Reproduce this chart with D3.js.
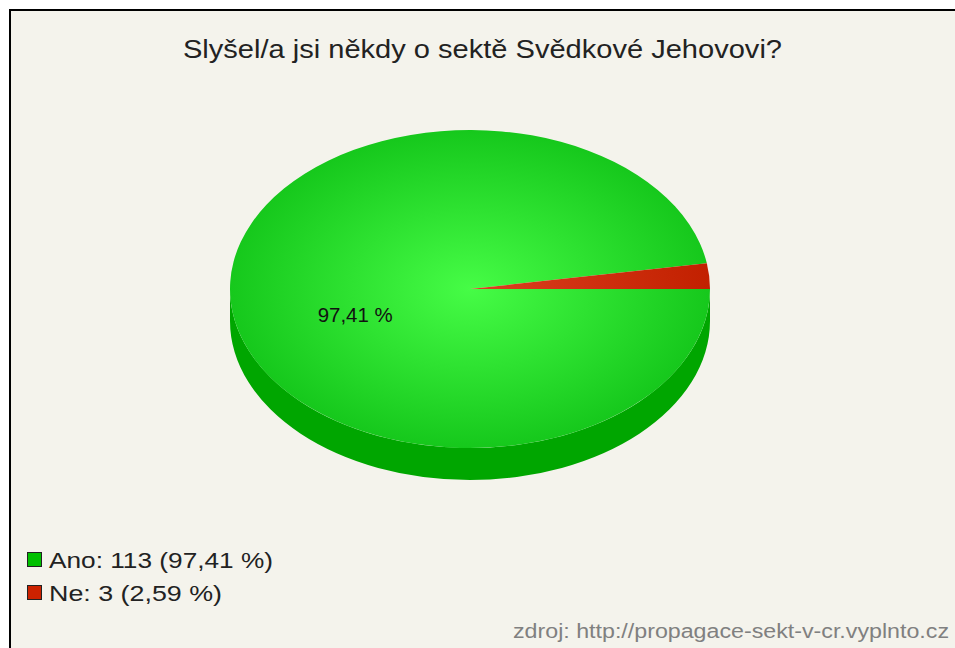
<!DOCTYPE html>
<html><head><meta charset="utf-8">
<script src="https://cdn.jsdelivr.net/npm/d3@7"></script>
<style>html,body{margin:0;padding:0;background:#fff;}svg{display:block;}</style>
</head><body>
<script>
const title = "Slyšel/a jsi někdy o sektě Svědkové Jehovovi?";
const categories = ["Ano", "Ne"];
const counts = [113, 3];
const percentLabels = ["97,41 %", "2,59 %"];
const legendLabels = ["Ano: 113 (97,41 %)", "Ne: 3 (2,59 %)"];
const topLight = ["#46fc46", "#dc4020"];
const topDark = ["#16c81c", "#c22000"];
const sideColors = ["#00a600", "#a01800"];
const legendColors = ["#00c000", "#cc2200"];
const source = "zdroj: http://propagace-sekt-v-cr.vyplnto.cz";

const W = 955, H = 648;
const cx = 470, cy = 289, rx = 240, ry = 159, depth = 32;
const font = "'Liberation Sans', Arial, sans-serif";

// measured widths of texts in the reference (wide glyphs)
const titleWidth = 599, labelWidth = 75, legendWidths = [224, 173], sourceWidth = 436;

const svg = d3.select("body").append("svg").attr("width", W).attr("height", H);
svg.append("rect").attr("x", 10).attr("y", 10).attr("width", 980).attr("height", 700)
  .attr("fill", "#f4f3ec").attr("stroke", "#000").attr("stroke-width", 2);

svg.append("text").attr("x", 183).attr("y", 58)
  .attr("font-family", font).attr("font-size", 26).attr("fill", "#222")
  .attr("textLength", titleWidth).attr("lengthAdjust", "spacingAndGlyphs").text(title);

const defs = svg.append("defs");
categories.forEach((c, i) => {
  const g = defs.append("radialGradient").attr("id", "g" + i)
    .attr("gradientUnits", "userSpaceOnUse").attr("cx", 0).attr("cy", 0).attr("r", rx);
  g.append("stop").attr("offset", "0%").attr("stop-color", topLight[i]);
  g.append("stop").attr("offset", "100%").attr("stop-color", topDark[i]);
});

const pie = d3.pie().sort(null).startAngle(Math.PI / 2).endAngle(Math.PI / 2 + 2 * Math.PI);
const arcs = pie(counts);
const arc = d3.arc().innerRadius(0).outerRadius(rx);

function pt(a, dy) { return [cx + rx * Math.sin(a), cy - ry * Math.cos(a) + dy]; }

// side walls (front half)
const sideG = svg.append("g");
arcs.forEach((d, i) => {
  for (let k = 0; k < 2; k++) {
    const v0 = Math.PI / 2 + 2 * Math.PI * k, v1 = 3 * Math.PI / 2 + 2 * Math.PI * k;
    const b0 = Math.max(d.startAngle, v0), b1 = Math.min(d.endAngle, v1);
    if (b1 <= b0) continue;
    const p0 = pt(b0, 0), p1 = pt(b1, 0), q1 = pt(b1, depth), q0 = pt(b0, depth);
    const p = `M${p0}A${rx},${ry} 0 0 1 ${p1}L${q1}A${rx},${ry} 0 0 0 ${q0}Z`;
    sideG.append("path").attr("d", p).attr("fill", sideColors[i]);
  }
});

const topG = svg.append("g").attr("transform", `translate(${cx},${cy}) scale(1,${ry / rx})`);
topG.selectAll("path").data(arcs).join("path")
  .attr("d", arc).attr("fill", (d, i) => `url(#g${i})`);

// percentage label for the large slice
const labelArc = d3.arc().innerRadius(rx * 0.48).outerRadius(rx * 0.48);
arcs.forEach((d, i) => {
  if (d.endAngle - d.startAngle < 0.5) return;
  const c = labelArc.centroid(d);
  svg.append("text").attr("x", cx + c[0] - labelWidth / 2).attr("y", cy + c[1] * ry / rx + 27)
    .attr("font-family", font).attr("font-size", 20)
    .attr("textLength", labelWidth).attr("lengthAdjust", "spacingAndGlyphs")
    .attr("fill", "#111").text(percentLabels[i]);
});

// legend
const lg = svg.append("g");
categories.forEach((c, i) => {
  const y = 552 + i * 33;
  lg.append("rect").attr("x", 27.5).attr("y", y + 0.5).attr("width", 14).attr("height", 14)
    .attr("fill", legendColors[i]).attr("stroke", "#222").attr("stroke-width", 1);
  lg.append("text").attr("x", 49).attr("y", y + 15.5).attr("font-family", font)
    .attr("font-size", 22).attr("fill", "#222")
    .attr("textLength", legendWidths[i]).attr("lengthAdjust", "spacingAndGlyphs").text(legendLabels[i]);
});

svg.append("text").attr("x", 513).attr("y", 638)
  .attr("font-family", font).attr("font-size", 19.5).attr("fill", "#808080")
  .attr("textLength", sourceWidth).attr("lengthAdjust", "spacingAndGlyphs").text(source);
</script>
</body></html>
